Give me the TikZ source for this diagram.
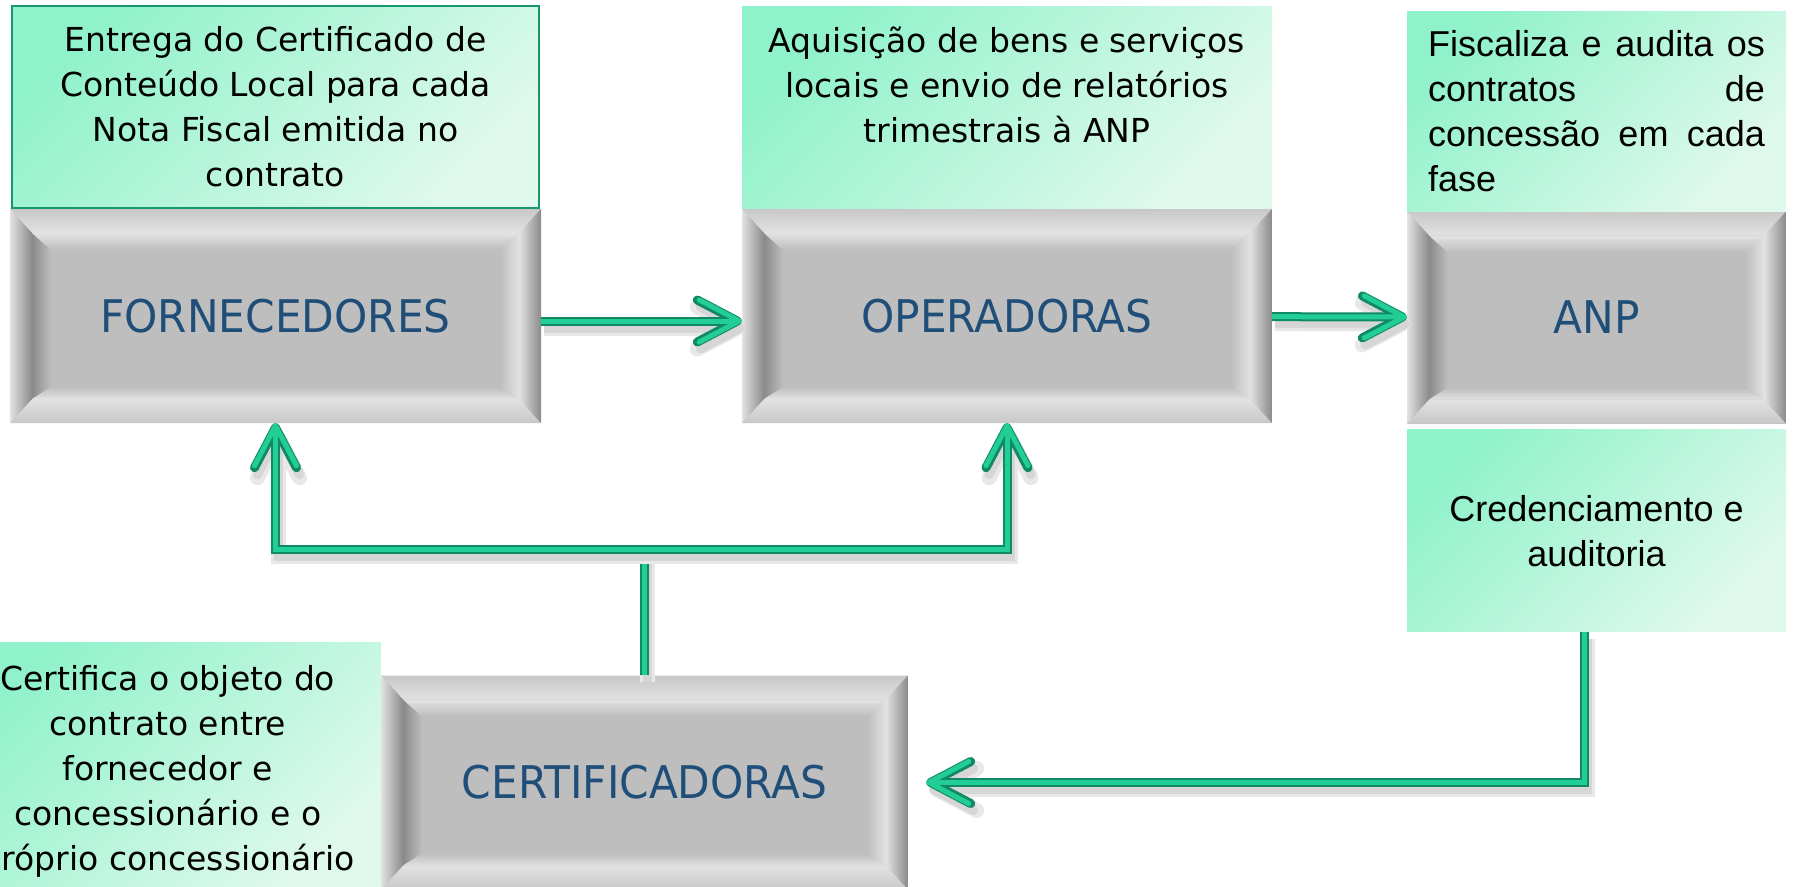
\documentclass[tikz,border=0pt]{standalone}
\usepackage{fontspec}
\setmainfont{Liberation Sans}
\newfontfamily\notefont{DejaVu Sans}
\newfontfamily\narrowfont{Liberation Sans}
\newfontfamily\labelfont[FakeStretch=0.94]{DejaVu Sans}
\usetikzlibrary{positioning,arrows.meta}

\definecolor{notegreen}{RGB}{144,242,202}
\definecolor{notepale}{RGB}{224,249,237}
\definecolor{noteedge}{RGB}{24,150,110}
\definecolor{labelblue}{RGB}{31,78,121}
\definecolor{bevface}{RGB}{190,190,190}
\definecolor{bevlight}{RGB}{226,226,226}
\definecolor{bevmid}{RGB}{200,200,200}
\definecolor{bevdark}{RGB}{138,138,138}
\definecolor{linkgreen}{RGB}{34,206,150}
\definecolor{linkdark}{RGB}{16,138,100}

\tikzset{
        note/.style={inner sep=0pt, minimum height=202pt, top color=notegreen,
                bottom color=notepale, shading angle=45, align=center,
                font=\notefont\fontsize{33}{45}\selectfont},
        narrow/.style={font=\narrowfont\fontsize{36}{45}\selectfont},
        bevelbox/.style={minimum width=#1, minimum height=214pt, inner sep=0pt,
                fill=bevface, text=labelblue, font=\labelfont\fontsize{45}{54}\selectfont,
                path picture={
                        \coordinate (bnw) at (path picture bounding box.north west);
                        \coordinate (bse) at (path picture bounding box.south east);
                        \coordinate (bne) at (bnw -| bse);
                        \coordinate (bsw) at (bse -| bnw);
                        \coordinate (inw) at ([xshift=22pt,yshift=-24pt]bnw);
                        \coordinate (ine) at ([xshift=-22pt,yshift=-24pt]bne);
                        \coordinate (ise) at ([xshift=-22pt,yshift=24pt]bse);
                        \coordinate (isw) at ([xshift=22pt,yshift=24pt]bsw);
                        \shade[top color=bevmid, bottom color=bevlight] (bnw) -- (bne) -- (ine) -- (inw) -- cycle;
                        \shade[top color=bevlight, bottom color=bevmid] (bsw) -- (bse) -- (ise) -- (isw) -- cycle;
                        \shade[left color=bevlight, right color=bevdark] (bnw) -- (inw) -- (isw) -- (bsw) -- cycle;
                        \shade[left color=bevlight, right color=bevdark] (bne) -- (ine) -- (ise) -- (bse) -- cycle;
                        \shade[left color=bevdark, right color=bevface] (inw) -- ([xshift=19pt,yshift=-17pt]inw) -- ([xshift=19pt,yshift=12pt]isw) -- (isw) -- cycle;
                        \shade[top color=bevlight, bottom color=bevface] (inw) -- (ine) -- ([xshift=-19pt,yshift=-17pt]ine) -- ([xshift=19pt,yshift=-17pt]inw) -- cycle;
                        \shade[left color=bevface, right color=bevlight] (ine) -- ([xshift=-19pt,yshift=-17pt]ine) -- ([xshift=-19pt,yshift=12pt]ise) -- (ise) -- cycle;
                        \shade[top color=bevface, bottom color=bevlight] (isw) -- (ise) -- ([xshift=-19pt,yshift=12pt]ise) -- ([xshift=19pt,yshift=12pt]isw) -- cycle;
                }},
        link/.style={draw=linkgreen, line width=5pt, -{Straight Barb[round,length=40pt,width=42pt]},
                preaction={draw=black!9, line width=15pt, transform canvas={xshift=3pt,yshift=-7pt}},
                preaction={draw=black!16, line width=9pt, transform canvas={xshift=3pt,yshift=-7pt}},
                preaction={draw=linkdark, line width=9pt}}
}

\begin{document}
\begin{tikzpicture}[x=1pt,y=-1pt]
        \useasboundingbox (0,0) rectangle (1795,886);

        \node[bevelbox=531pt] (forn) at (275.5,316) {FORNECEDORES};
        \node[bevelbox=530pt] (oper) at (1007,316) {OPERADORAS};
        \node[bevelbox=379pt, minimum height=212pt] (anp) at (1596.5,317.5) {ANP};
        \node[bevelbox=527pt] (cert) at (644.5,782.5) {CERTIFICADORAS};

        \node[note, minimum width=527pt, draw=noteedge, line width=1.5pt] (fornnote) [above=0pt of forn]
                {Entrega do Certificado de\\Conteúdo Local para cada\\Nota Fiscal emitida no\\contrato};
        \node[note, minimum width=530pt] (opernote) [above=0pt of oper]
                {Aquisição de bens e serviços\\locais e envio de relatórios\\trimestrais à ANP\\\mbox{}};
        \node[note, narrow, minimum width=379pt, minimum height=200pt, align=justify, text width=337pt] (anpnote) [above=0pt of anp]
                {Fiscaliza e audita os\linebreak contratos de\linebreak concessão em cada\linebreak fase};
        \node[note, narrow, minimum width=379pt] (crednote) [below=6pt of anp]
                {Credenciamento e\\auditoria};
        \node[note, minimum width=426pt, minimum height=258pt, anchor=north east] (certnote) at (381,642)
                {Certifica o objeto do\\contrato entre\\fornecedor e\\concessionário e o\\próprio concessionário};

        \coordinate (split) at (cert.north |- 0,549);
        \draw[link] ([yshift=-5pt]forn.east) -- ([yshift=-5pt]oper.west);
        \draw[link] (oper) -- (anp);
        \draw[link] ([xshift=-12pt]crednote.south) |- ([xshift=18pt]cert.east);
        \draw[link, -] (cert.north) -- (split);
        \foreach \Value in {forn,oper}
        {
          \draw[link] (split) -| (\Value.south);
        }
\end{tikzpicture}
\end{document}
